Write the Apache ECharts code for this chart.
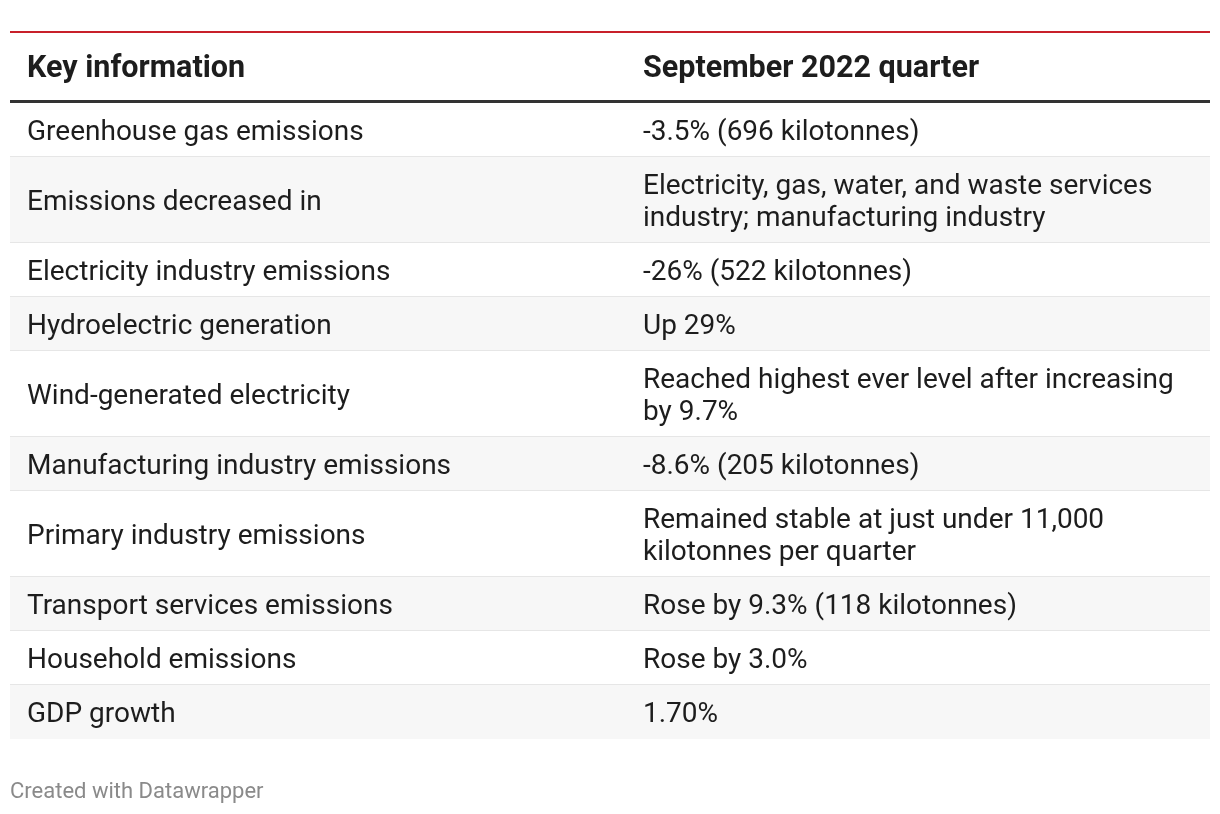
<!DOCTYPE html>
<html>
<head>
<meta charset="utf-8">
<script src="https://cdn.jsdelivr.net/npm/echarts@6/dist/echarts.min.js"></script>
<style>
html,body{margin:0;padding:0;background:#fff;}
#chart{width:1220px;height:814px;}
</style>
</head>
<body>
<div id="chart"></div>
<script>
// ---- data ----
const headers = ['Key information', 'September 2022 quarter'];
const keys = [
  'Greenhouse gas emissions',
  'Emissions decreased in',
  'Electricity industry emissions',
  'Hydroelectric generation',
  'Wind-generated electricity',
  'Manufacturing industry emissions',
  'Primary industry emissions',
  'Transport services emissions',
  'Household emissions',
  'GDP growth'
];
const values = [
  '-3.5% (696 kilotonnes)',
  'Electricity, gas, water, and waste services\nindustry; manufacturing industry',
  '-26% (522 kilotonnes)',
  'Up 29%',
  'Reached highest ever level after increasing\nby 9.7%',
  '-8.6% (205 kilotonnes)',
  'Remained stable at just under 11,000\nkilotonnes per quarter',
  'Rose by 9.3% (118 kilotonnes)',
  'Rose by 3.0%',
  '1.70%'
];
const footer = 'Created with Datawrapper';

// ---- layout (in grid units = px) ----
const TABLE_W = 1200;
const HEADER_H = 72;
const LINE_H = 32;
const PAD_V = 22;
const COL_X = [17, 633];
const rowH = values.map(v => PAD_V + LINE_H * v.split('\n').length);
const rowTop = [];
let acc = HEADER_H;
rowH.forEach(h => { rowTop.push(acc); acc += h; });
const TOTAL_H = acc;

const FONT = 'Roboto, "Noto Sans", sans-serif';
const TEXT_COLOR = '#1d1d1d';

const chart = echarts.init(document.getElementById('chart'), null, {renderer: 'canvas'});

const seriesData = [-1].concat(keys.map((k, i) => i));

function renderItem(params, api) {
  const idx = api.value(0);
  const P = (x, y) => api.coord([x, y]);
  const rect = (x0, y0, x1, y1, fill) => {
    const a = P(x0, y0), b = P(x1, y1);
    return {type: 'rect', shape: {x: a[0], y: a[1], width: b[0] - a[0], height: b[1] - a[1]}, style: {fill: fill}, silent: true};
  };
  const text = (x, y, str, weight, size) => {
    const p = P(x, y);
    return {type: 'text', x: p[0], y: p[1], silent: true,
      style: {text: str, fill: TEXT_COLOR, fontFamily: FONT, fontWeight: weight, fontSize: size,
        lineHeight: LINE_H, align: 'left', verticalAlign: 'middle'}};
  };
  const children = [];
  if (idx < 0) {
    children.push(rect(0, 0, TABLE_W, HEADER_H, '#ffffff'));
    children.push(rect(0, 0, TABLE_W, 2, '#c8202a'));
    children.push(rect(0, HEADER_H - 3, TABLE_W, HEADER_H, '#333333'));
    children.push(text(COL_X[0], 38, headers[0], 'bold', 30.5));
    children.push(text(COL_X[1], 38, headers[1], 'bold', 30.5));
  } else {
    const t = rowTop[idx], h = rowH[idx];
    children.push(rect(0, t, TABLE_W, t + h, idx % 2 === 0 ? '#ffffff' : '#f7f7f7'));
    if (idx < keys.length - 1) children.push(rect(0, t + h - 1, TABLE_W, t + h + 1, '#e6e6e6'));
    const cy = t + h / 2 + 2.5;
    children.push(text(COL_X[0], cy, keys[idx], 'normal', 28));
    children.push(text(COL_X[1], cy, values[idx], 'normal', 28));
  }
  return {type: 'group', children: children};
}

chart.setOption({
  animation: false,
  backgroundColor: '#ffffff',
  title: {
    text: footer, left: 10, top: 781, padding: 0,
    textStyle: {fontFamily: FONT, fontWeight: 'normal', fontSize: 22, color: '#8a8a8a'}
  },
  grid: {left: 10, top: 31, width: TABLE_W, height: TOTAL_H},
  xAxis: {type: 'value', min: 0, max: TABLE_W, show: false},
  yAxis: {type: 'value', min: 0, max: TOTAL_H, inverse: true, show: false},
  series: [{
    type: 'custom',
    renderItem: renderItem,
    data: seriesData,
    encode: {x: 0},
    clip: false
  }]
});
</script>
</body>
</html>
